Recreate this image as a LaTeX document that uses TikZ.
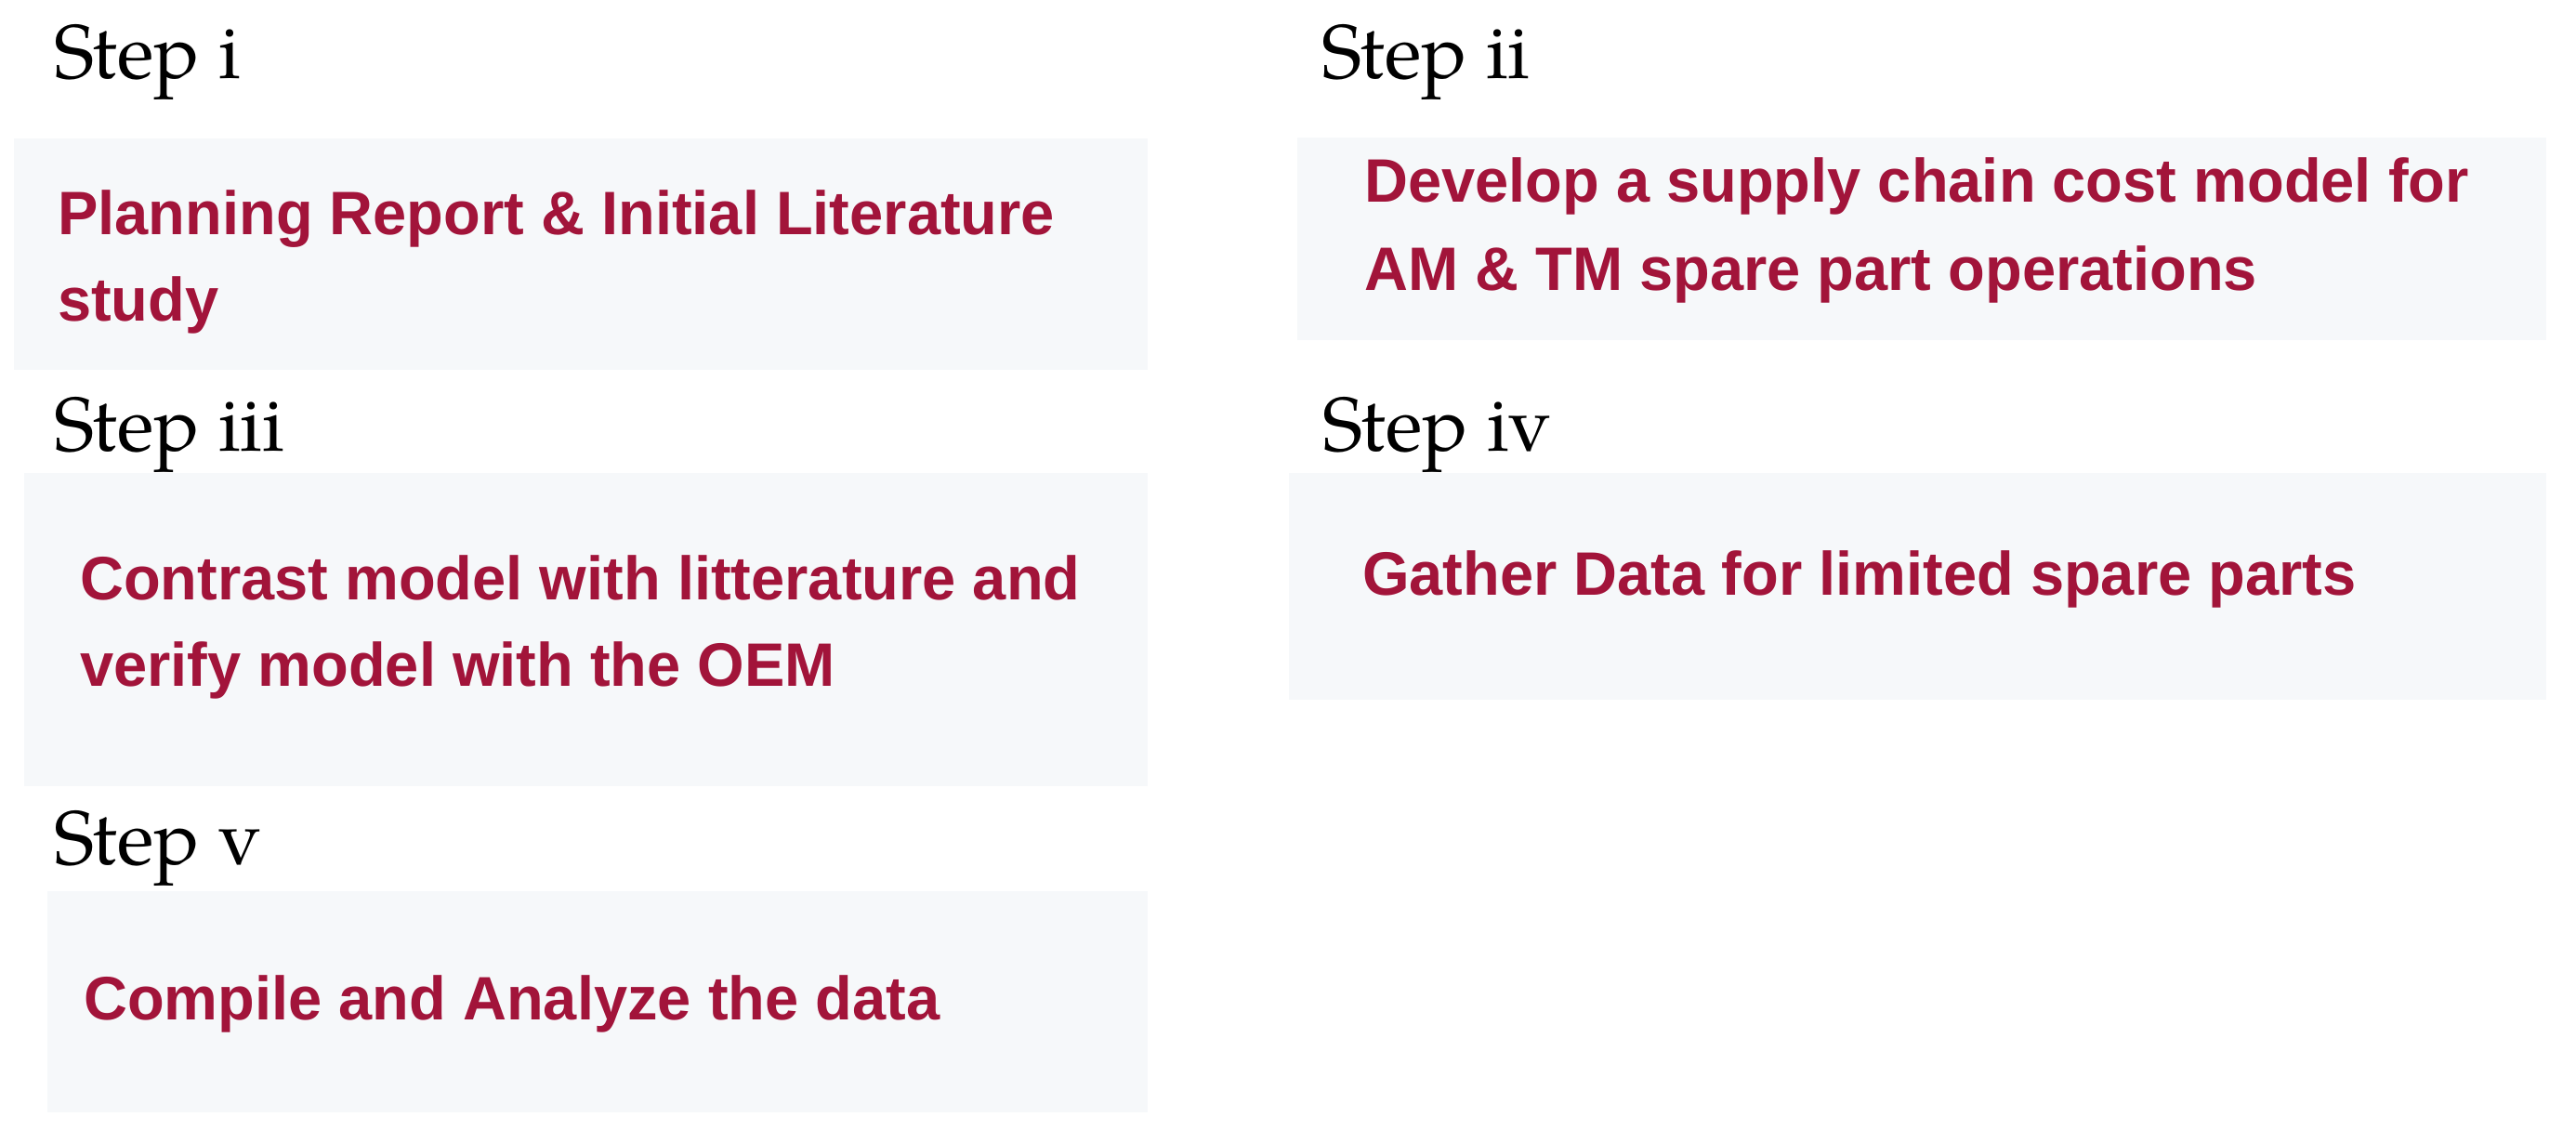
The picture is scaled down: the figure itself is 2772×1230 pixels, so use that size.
\documentclass[tikz,border=0pt]{standalone}
\usepackage{fontspec}
\newfontfamily\stepfont{texgyrepagella-regular.otf}
\newfontfamily\boxfont[FakeStretch=0.985]{Liberation Sans Bold}
\definecolor{boxbg}{RGB}{246,248,250}
\definecolor{txtred}{RGB}{162,20,58}
\tikzset{
  steplabel/.style={anchor=base west, inner sep=0pt, font=\stepfont\fontsize{82}{90}\selectfont, text=black},
  stepbox/.style={anchor=north west, fill=boxbg, draw=none, inner sep=0pt},
  boxtext/.style={anchor=base west, inner sep=0pt, font=\boxfont\fontsize{66}{93}\selectfont, text=txtred}
}
\begin{document}
\begin{tikzpicture}[x=1pt,y=-1pt]
\useasboundingbox (0,0) rectangle (2772,1230);
\fill[white] (0,0) rectangle (2772,1230);
% boxes
\node[stepbox, minimum width=1220pt, minimum height=249pt] (b1) at (15,149) {};
\node[stepbox, minimum width=1344pt, minimum height=218pt] (b2) at (1396,148) {};
\node[stepbox, minimum width=1209pt, minimum height=337pt] (b3) at (26,509) {};
\node[stepbox, minimum width=1353pt, minimum height=244pt] (b4) at (1387,509) {};
\node[stepbox, minimum width=1184pt, minimum height=238pt] (b5) at (51,959) {};
% step labels
\node[steplabel] (s1) at (58,85) {Step i};
\node[steplabel] (s2) at (1422,85) {Step ii};
\node[steplabel] (s3) at (58,485) {Step iii};
\node[steplabel] (s4) at (1423,485) {Step iv};
\node[steplabel] (s5) at (58,930) {Step v};
% box texts
\node[boxtext] (t1a) at (62,253) {Planning Report \& Initial Literature};
\node[boxtext] (t1b) at (62,345) {study};
\node[boxtext] (t2a) at (1468,218) {Develop a supply chain cost model for};
\node[boxtext] (t2b) at (1468,313) {AM \& TM spare part operations};
\node[boxtext] (t3a) at (86,645) {Contrast model with litterature and};
\node[boxtext] (t3b) at (86,738) {verify model with the OEM};
\node[boxtext] (t4) at (1466,640) {Gather Data for limited spare parts};
\node[boxtext] (t5) at (90,1097) {Compile and Analyze the data};
\end{tikzpicture}
\end{document}
